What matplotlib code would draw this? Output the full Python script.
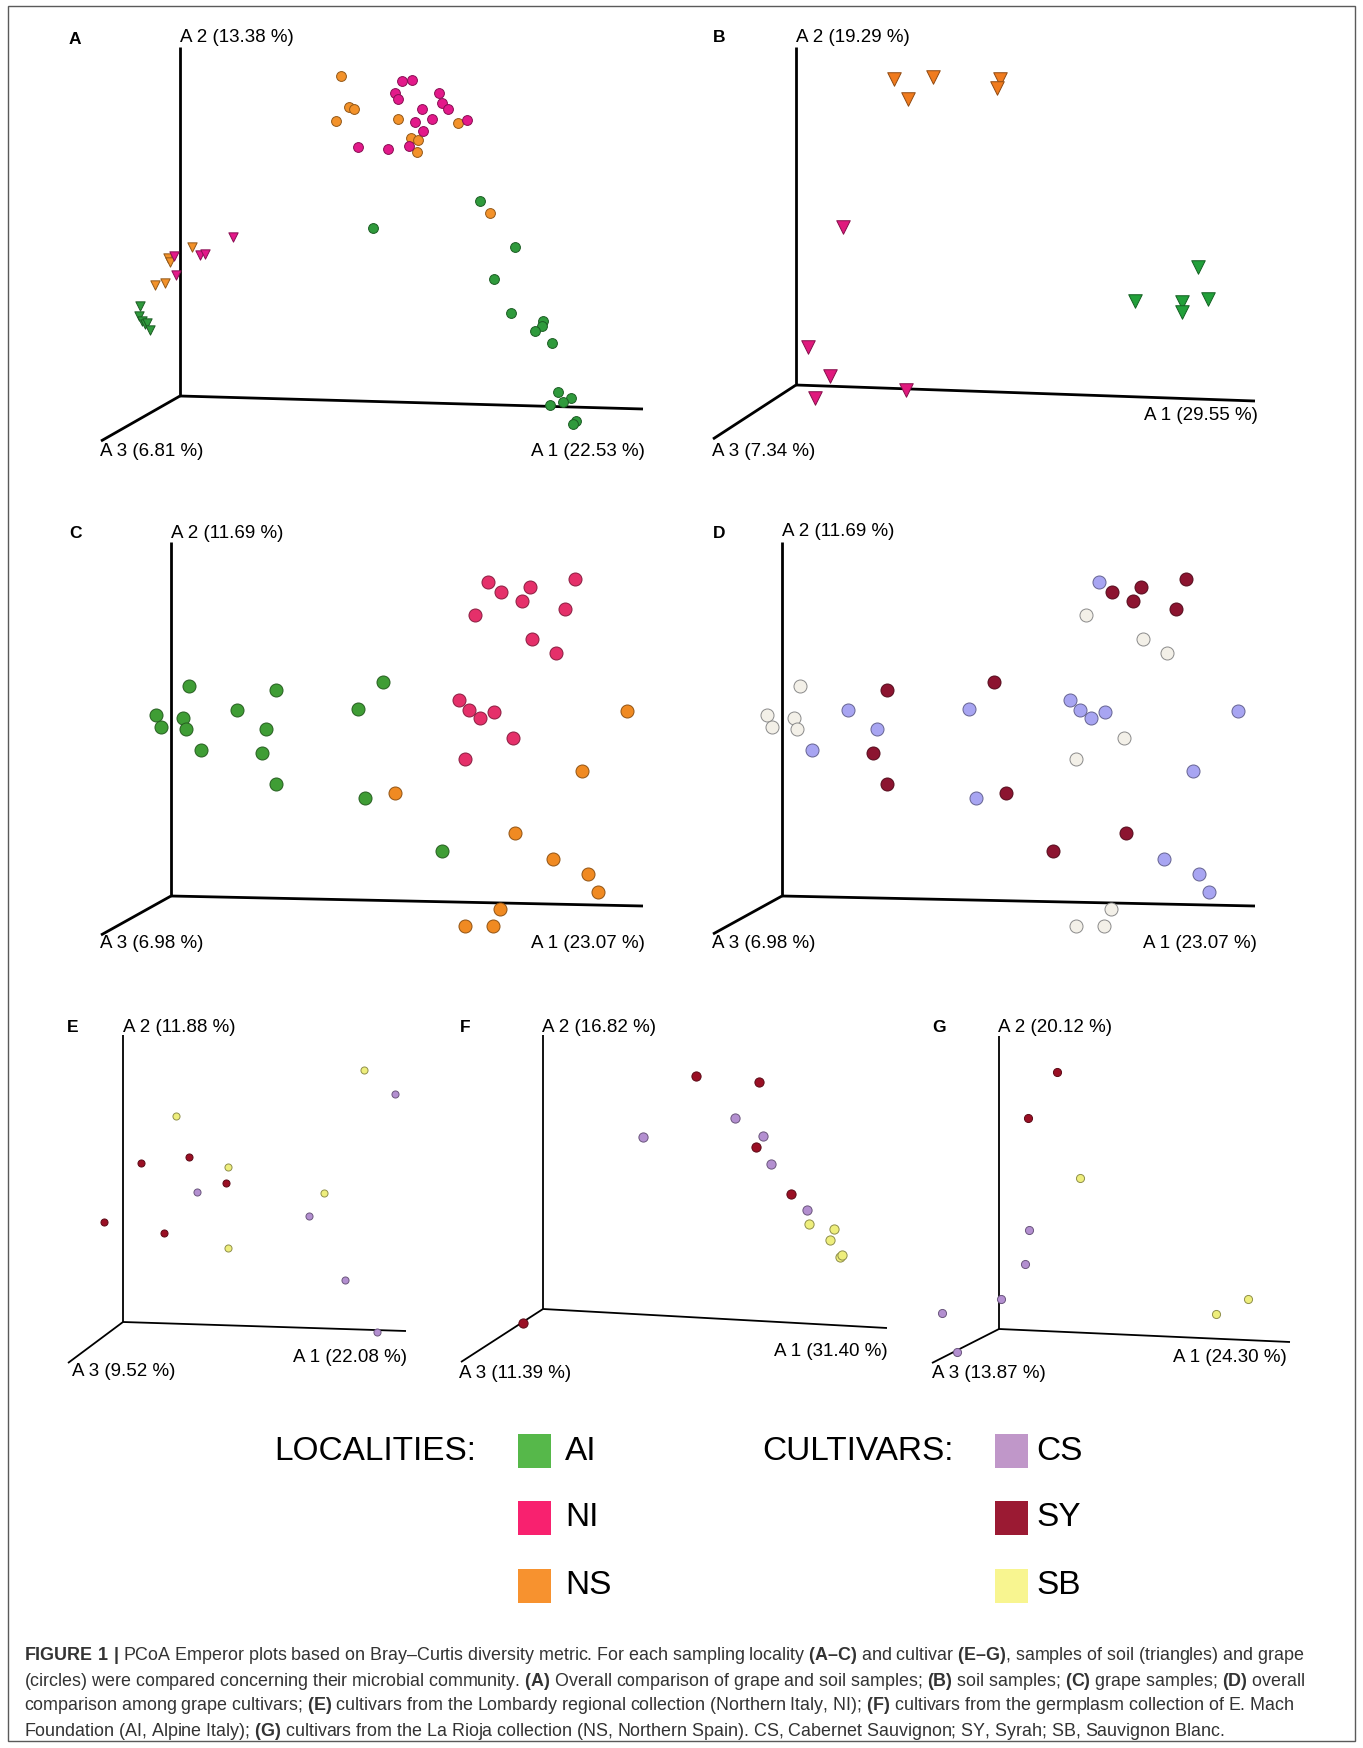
import matplotlib
matplotlib.use("Agg")
import matplotlib.pyplot as plt
from matplotlib.patches import Rectangle
from matplotlib.colors import to_rgb

plt.rcParams['font.family'] = ['Liberation Sans', 'DejaVu Sans']
plt.rcParams['mathtext.fontset'] = 'custom'
plt.rcParams['mathtext.rm'] = 'Liberation Sans'
plt.rcParams['mathtext.bf'] = 'Liberation Sans:bold'
plt.rcParams['mathtext.default'] = 'regular'

W, H = 1363, 1748

# ---- ordination coordinates (projected, offset from each panel's axis origin) ----

# A: grape (circles) and soil (triangles) by locality
A_AI_GRAPE = [(300, 195), (193, 168), (335, 149), (314, 117), (331, 83), (363, 75), (362, 70),
              (355, 65), (372, 53), (378, 4), (391, -2), (383, -6), (370, -9), (396, -25), (393, -28)]
A_NI_GRAPE = [(222, 315), (232, 316), (215, 303), (218, 297), (259, 303), (262, 293), (268, 287),
              (242, 287), (252, 277), (235, 274), (287, 276), (243, 265), (178, 249), (208, 247), (229, 250)]
A_NS_GRAPE = [(161, 320), (169, 289), (174, 287), (156, 275), (218, 277), (278, 273), (231, 258),
              (238, 256), (237, 244), (310, 183)]
A_AI_SOIL = [(-40, 90), (-41, 80), (-38, 75), (-35, 72), (-33, 73), (-30, 66)]
A_NI_SOIL = [(53, 159), (20, 141), (25, 142), (-6, 140), (-4, 121)]
A_NS_SOIL = [(12, 149), (-12, 138), (-10, 134), (-15, 113), (-25, 111)]

# B: soil only
B_AI_SOIL = [(402, 118), (339, 84), (386, 83), (386, 73), (412, 86)]
B_NI_SOIL = [(47, 158), (12, 38), (34, 9), (19, -13), (110, -5)]
B_NS_SOIL = [(98, 306), (137, 308), (112, 286), (204, 306), (201, 297)]

# C / D: grape samples, same ordination coloured by locality (C) and cultivar (D)
GRAPE_XY = [(317, 314), (330, 304), (359, 309), (404, 317), (351, 295), (394, 287), (304, 281),
            (361, 257), (385, 243), (288, 196), (298, 186), (309, 178), (323, 184), (342, 158),
            (294, 137),
            (18, 210), (105, 206), (212, 214), (-15, 181), (-10, 169), (12, 178), (15, 167),
            (66, 186), (187, 187), (95, 167), (30, 146), (91, 143), (105, 112), (194, 98), (271, 45),
            (456, 185), (411, 125), (224, 103), (344, 63), (382, 37), (417, 22), (427, 4),
            (329, -13), (294, -30), (322, -30)]
GRAPE_LOCALITY = ['NI'] * 15 + ['AI'] * 15 + ['NS'] * 10
GRAPE_CULTIVAR = ['CS', 'SY', 'SY', 'SY', 'SY', 'SY', 'SB', 'SB', 'SB', 'CS', 'CS', 'CS', 'CS', 'SB', 'SB',
                  'SB', 'SY', 'SY', 'SB', 'SB', 'SB', 'SB', 'CS', 'CS', 'CS', 'CS', 'SY', 'SY', 'CS', 'SY',
                  'CS', 'CS', 'SY', 'SY', 'CS', 'CS', 'CS', 'SB', 'SB', 'SB']

# E: Lombardy collection (NI)
E_CS = [(272, 228), (74, 130), (186, 106), (222, 42), (254, -10)]
E_SY = [(18, 159), (66, 165), (103, 139), (-19, 100), (41, 89)]
E_SB = [(241, 252), (53, 206), (105, 155), (201, 129), (105, 74)]

# F: E. Mach germplasm collection (AI)
F_CS = [(100, 172), (192, 191), (220, 173), (228, 145), (264, 99)]
F_SY = [(153, 233), (216, 227), (213, 162), (248, 115), (-20, -14)]
F_SB = [(266, 85), (291, 80), (287, 69), (297, 52), (299, 54)]

# G: La Rioja collection (NS)
G_CS = [(30, 99), (26, 65), (2, 30), (-57, 16), (-42, -23)]
G_SY = [(58, 257), (29, 211)]
G_SB = [(81, 151), (249, 30), (217, 15)]

PANEL_NAMES = ['A', 'B', 'C', 'D', 'E', 'F', 'G']
PCT_A1 = [22.53, 29.55, 23.07, 23.07, 22.08, 31.40, 24.30]
PCT_A2 = [13.38, 19.29, 11.69, 11.69, 11.88, 16.82, 20.12]
PCT_A3 = [6.81, 7.34, 6.98, 6.98, 9.52, 11.39, 13.87]

LOCALITIES = ['AI', 'NI', 'NS']
CULTIVARS = ['CS', 'SY', 'SB']
LEGEND_LOC_COLORS = ['#56b84a', '#f8216f', '#f7922f']
LEGEND_CUL_COLORS = ['#c097c9', '#9b1a33', '#f8f590']

# ---- layout: origin pixel, axis end offsets, label anchors (pixels) ----
LAYOUT = {
    'A': dict(origin=(180, 396), a1=(463, -13), a2=(0, 349), a3=(-79, -45), lw=2.0,
              letter=(75, 39), a2_lab=(180, 38), a1_lab=(645, 452), a3_lab=(100, 452)),
    'B': dict(origin=(796, 385), a1=(459, -16), a2=(0, 338), a3=(-83, -54), lw=2.0,
              letter=(719, 37), a2_lab=(796, 37), a1_lab=(1258, 416), a3_lab=(712, 452)),
    'C': dict(origin=(171, 896), a1=(472, -10), a2=(0, 354), a3=(-70, -39), lw=2.0,
              letter=(75, 533), a2_lab=(171, 533), a1_lab=(645, 944), a3_lab=(100, 944)),
    'D': dict(origin=(782, 896), a1=(473, -10), a2=(0, 354), a3=(-69, -38), lw=2.0,
              letter=(719, 533), a2_lab=(782, 532), a1_lab=(1257, 944), a3_lab=(712, 944)),
    'E': dict(origin=(123, 1322), a1=(283, -9), a2=(0, 287), a3=(-55, -41), lw=1.3,
              letter=(73, 1027), a2_lab=(123, 1027), a1_lab=(407, 1357), a3_lab=(72, 1372)),
    'F': dict(origin=(543, 1309), a1=(344, -19), a2=(0, 274), a3=(-82, -53), lw=1.3,
              letter=(465, 1027), a2_lab=(542, 1027), a1_lab=(888, 1352), a3_lab=(459, 1373)),
    'G': dict(origin=(999, 1329), a1=(291, -13), a2=(0, 293), a3=(-67, -34), lw=1.3,
              letter=(939, 1027), a2_lab=(998, 1027), a1_lab=(1287, 1357), a3_lab=(932, 1373)),
}


def darker(c, f=0.6):
    r, g, b = to_rgb(c)
    return (r * f, g * f, b * f)


def panel_axes(fig, name):
    ox, oy = LAYOUT[name]['origin']
    ax = fig.add_axes([0, 0, 1, 1])
    ax.set_xlim(-ox, W - ox)
    ax.set_ylim(oy - H, oy)
    ax.axis('off')
    ax.patch.set_alpha(0)
    lay = LAYOUT[name]
    for key in ('a1', 'a2', 'a3'):
        ex, ey = lay[key]
        ax.plot([0, ex], [0, ey], color='black', lw=lay['lw'], solid_capstyle='butt', zorder=1)
    return ax


def dots(ax, pts, color, size, marker='o', edge=None):
    xs = [p[0] for p in pts]
    ys = [p[1] for p in pts]
    ax.scatter(xs, ys, s=size, c=color, marker=marker, zorder=3,
               edgecolors=edge if edge else darker(color), linewidths=0.7)


fig = plt.figure(figsize=(W / 100, H / 100), dpi=100)

# panel A
ax = panel_axes(fig, 'A')
dots(ax, A_AI_SOIL, '#2f9a3c', 45, 'v')
dots(ax, A_NS_SOIL, '#f3922a', 45, 'v')
dots(ax, A_NI_SOIL, '#e3198a', 45, 'v')
dots(ax, A_AI_GRAPE, '#2f9a3c', 50)
dots(ax, A_NS_GRAPE, '#f3922a', 50)
dots(ax, A_NI_GRAPE, '#e3198a', 50)

# panel B
ax = panel_axes(fig, 'B')
dots(ax, B_NS_SOIL, '#f07b1e', 95, 'v')
dots(ax, B_NI_SOIL, '#e0197d', 95, 'v')
dots(ax, B_AI_SOIL, '#22a03a', 95, 'v')

# panel C
loc_colors_c = {'AI': '#3f9d35', 'NI': '#e5306a', 'NS': '#f08a22'}
ax = panel_axes(fig, 'C')
for loc in LOCALITIES:
    pts = [p for p, l in zip(GRAPE_XY, GRAPE_LOCALITY) if l == loc]
    dots(ax, pts, loc_colors_c[loc], 88)

# panel D
cul_colors_d = {'CS': '#a8a5f2', 'SY': '#8c1430', 'SB': '#f3f0e8'}
ax = panel_axes(fig, 'D')
for cul in CULTIVARS:
    pts = [p for p, c in zip(GRAPE_XY, GRAPE_CULTIVAR) if c == cul]
    dots(ax, pts, cul_colors_d[cul], 88, edge='#8a8a8a' if cul == 'SB' else None)

# panels E-G
cul_colors = {'CS': '#b38fd0', 'SY': '#9a0f24', 'SB': '#eeee7c'}
for name, groups, size in (('E', (E_CS, E_SY, E_SB), 26),
                           ('F', (F_CS, F_SY, F_SB), 44),
                           ('G', (G_CS, G_SY, G_SB), 34)):
    ax = panel_axes(fig, name)
    for cul, pts in zip(CULTIVARS, groups):
        dots(ax, pts, cul_colors[cul], size)

# overlay in pixel units for text, legend and frame
ov = fig.add_axes([0, 0, 1, 1])
ov.set_xlim(0, W)
ov.set_ylim(H, 0)
ov.axis('off')
ov.patch.set_alpha(0)

ov.add_patch(Rectangle((8, 6), 1347, 1735, fill=False, edgecolor='#5a5a5a', lw=1.0))

for i, name in enumerate(PANEL_NAMES):
    lay = LAYOUT[name]
    ov.text(*lay['letter'], name, fontsize=12.5, fontweight='bold', ha='center', va='center')
    ov.text(*lay['a2_lab'], f'A 2 ({PCT_A2[i]:.2f} %)', fontsize=13.5, ha='left', va='center')
    ov.text(*lay['a1_lab'], f'A 1 ({PCT_A1[i]:.2f} %)', fontsize=13.5, ha='right', va='center')
    ov.text(*lay['a3_lab'], f'A 3 ({PCT_A3[i]:.2f} %)', fontsize=13.5, ha='left', va='center')

# legend
rows_y = [1451, 1518, 1586]
ov.text(274, rows_y[0], 'LOCALITIES:', fontsize=24, ha='left', va='center')
ov.text(762, rows_y[0], 'CULTIVARS:', fontsize=24, ha='left', va='center')
for y, lab, col in zip(rows_y, LOCALITIES, LEGEND_LOC_COLORS):
    ov.add_patch(Rectangle((518, y - 17), 33, 34, color=col, lw=0))
    ov.text(565, y, lab, fontsize=24, ha='left', va='center')
for y, lab, col in zip(rows_y, CULTIVARS, LEGEND_CUL_COLORS):
    ov.add_patch(Rectangle((995, y - 17), 33, 34, color=col, lw=0))
    ov.text(1036, y, lab, fontsize=24, ha='left', va='center')

# caption; bold runs set with \mathbf
CAPTION = [
    r"$\mathbf{FIGURE\ 1\ |}$ PCoA Emperor plots based on Bray–Curtis diversity metric. For each sampling "
    r"locality $\mathbf{(A–C)}$ and cultivar $\mathbf{(E–G)}$, samples of soil (triangles) and grape",
    r"(circles) were compared concerning their microbial community. $\mathbf{(A)}$ Overall comparison of grape "
    r"and soil samples; $\mathbf{(B)}$ soil samples; $\mathbf{(C)}$ grape samples; $\mathbf{(D)}$ overall",
    r"comparison among grape cultivars; $\mathbf{(E)}$ cultivars from the Lombardy regional collection "
    r"(Northern Italy, NI); $\mathbf{(F)}$ cultivars from the germplasm collection of E. Mach",
    r"Foundation (AI, Alpine Italy); $\mathbf{(G)}$ cultivars from the La Rioja collection (NS, Northern "
    r"Spain). CS, Cabernet Sauvignon; SY, Syrah; SB, Sauvignon Blanc.",
]
for y, line in zip([1656, 1681, 1706, 1731], CAPTION):
    ov.text(24, y, line, fontsize=12.9, ha='left', va='center', color='#333333')

fig.savefig('out.png', dpi=100)
